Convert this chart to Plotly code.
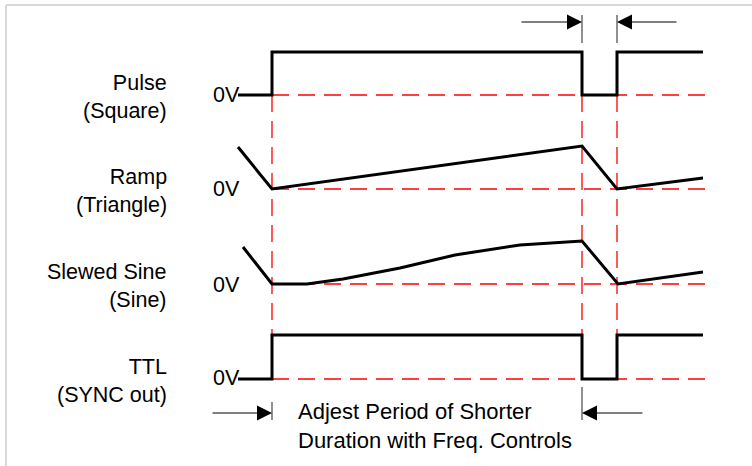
import plotly.graph_objects as go

# timing points (horizontal units) and levels above 0V for each channel
pulse_t = [238, 272, 272, 582, 582, 617, 617, 703]
pulse_v = [0, 0, 43, 43, 0, 0, 43, 43]

ramp_t = [238, 272, 582, 617, 703]
ramp_v = [42, 0, 43, 0, 11]

sine_t = [243, 272, 307, 343, 400, 455, 520, 582, 618, 703]
sine_v = [37, 0, 0, 5, 16, 29, 39, 43, 0, 12]

ttl_t = [238, 272, 272, 582, 582, 617, 617, 703]
ttl_v = [0, 0, 44, 44, 0, 0, 44, 44]

channel_names = ["Pulse<br>(Square)", "Ramp<br>(Triangle)",
                 "Slewed Sine<br>(Sine)", "TTL<br>(SYNC out)"]
zero_label = "0V"
edges_t = [272, 582, 617]
note_text = "Adjest Period of Shorter<br>Duration with Freq. Controls"

baselines = [95, 189, 284, 379]
label_y = [95, 189, 285, 378]
font_family = "Liberation Sans, Arial, sans-serif"

fig = go.Figure()

series = [(pulse_t, pulse_v), (ramp_t, ramp_v), (sine_t, sine_v), (ttl_t, ttl_v)]

# red dashed reference lines
for base in baselines:
    fig.add_trace(go.Scatter(
        x=[edges_t[0], 714], y=[base, base], mode="lines",
        line=dict(color="#ff0000", width=1.3, dash="17px,9px"),
        hoverinfo="skip"))
for t in edges_t:
    fig.add_trace(go.Scatter(
        x=[t, t], y=[baselines[0], baselines[-1]], mode="lines",
        line=dict(color="#ff0000", width=1.3, dash="17px,9px"),
        hoverinfo="skip"))

# waveforms
for (t, v), base in zip(series, baselines):
    fig.add_trace(go.Scatter(
        x=t, y=[base - val for val in v], mode="lines",
        line=dict(color="black", width=3),
        hoverinfo="skip"))

# dimension ticks
for t, y0, y1 in [(582, 15, 43), (617, 15, 43), (272, 402, 420), (582, 387, 420)]:
    fig.add_trace(go.Scatter(
        x=[t, t], y=[y0, y1], mode="lines",
        line=dict(color="#222222", width=1), hoverinfo="skip"))

# dimension arrows
arrows = [(520, 582, 22), (678, 617, 22), (211, 272, 413), (644, 582, 413)]
for x0, x1, y in arrows:
    fig.add_annotation(
        x=x1, y=y, ax=x0, ay=y, xref="x", yref="y", axref="x", ayref="y",
        text="", showarrow=True, arrowhead=2, arrowsize=3, arrowwidth=1,
        arrowcolor="black", standoff=0)

# labels
for name, y, base in zip(channel_names, label_y, baselines):
    fig.add_annotation(
        x=169, y=base + 2, xref="x", yref="y", text=name, showarrow=False,
        xanchor="right", yanchor="middle", align="right",
        font=dict(family=font_family, size=21.5, color="black"))
    fig.add_annotation(
        x=211, y=y, xref="x", yref="y", text=zero_label, showarrow=False,
        xanchor="left", yanchor="middle",
        font=dict(family=font_family, size=21.5, color="black"))

fig.add_annotation(
    x=296, y=426, xref="x", yref="y", text=note_text, showarrow=False,
    xanchor="left", yanchor="middle", align="left",
    font=dict(family=font_family, size=22, color="black"))

# light frame
fig.add_shape(type="line", xref="x", yref="y", x0=6, y0=5, x1=752, y1=5,
              line=dict(color="#d9d9d9", width=2))
fig.add_shape(type="line", xref="x", yref="y", x0=6, y0=5, x1=6, y1=466,
              line=dict(color="#d9d9d9", width=2))

fig.update_layout(
    width=752, height=466,
    margin=dict(l=0, r=0, t=0, b=0),
    paper_bgcolor="white", plot_bgcolor="white",
    showlegend=False,
    xaxis=dict(range=[0, 752], visible=False, fixedrange=True),
    yaxis=dict(range=[466, 0], visible=False, fixedrange=True),
)

fig.write_html("out.html", config={"displayModeBar": False},
               post_script="document.body.style.margin='0px';")
